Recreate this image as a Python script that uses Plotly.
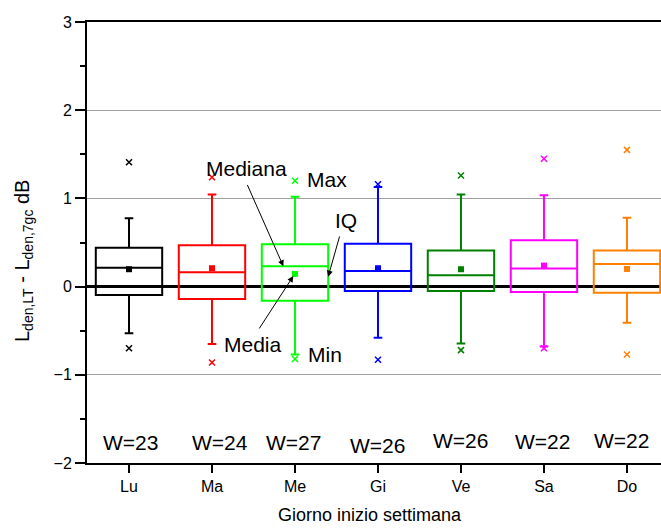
import plotly.graph_objects as go

days = ["Lu", "Ma", "Me", "Gi", "Ve", "Sa", "Do"]
positions = [1, 2, 3, 4, 5, 6, 7]
colors = ["#000000", "#FF0000", "#00FF00", "#0000FF", "#008000", "#FF00FF", "#FF8000"]
upper_whisker = [0.775, 1.045, 1.02, 1.13, 1.045, 1.035, 0.78]
q3 = [0.44, 0.47, 0.48, 0.487, 0.41, 0.525, 0.41]
median = [0.215, 0.163, 0.23, 0.178, 0.13, 0.204, 0.257]
mean = [0.197, 0.208, 0.144, 0.208, 0.197, 0.238, 0.20]
q1 = [-0.094, -0.14, -0.16, -0.05, -0.05, -0.06, -0.07]
lower_whisker = [-0.53, -0.65, -0.77, -0.58, -0.645, -0.68, -0.41]
max_val = [1.41, 1.24, 1.20, 1.16, 1.26, 1.45, 1.55]
min_val = [-0.70, -0.86, -0.82, -0.83, -0.72, -0.70, -0.77]
w_labels = ["W=23", "W=24", "W=27", "W=26", "W=26", "W=22", "W=22"]
w_offsets = [0.02, 0.1, -0.02, 0.0, 0.0, -0.02, -0.06]
w_y = [-1.77, -1.77, -1.77, -1.80, -1.75, -1.76, -1.74]

fig = go.Figure()
for i in range(7):
    c = colors[i]
    fig.add_trace(go.Box(
        x=[positions[i]], q1=[q1[i]], median=[median[i]], q3=[q3[i]],
        lowerfence=[lower_whisker[i]], upperfence=[upper_whisker[i]],
        width=0.8, whiskerwidth=0.13, boxpoints=False,
        line=dict(color=c, width=2), fillcolor="rgba(0,0,0,0)",
        showlegend=False, hoverinfo="skip"))
    fig.add_trace(go.Scatter(
        x=[positions[i]], y=[mean[i]], mode="markers",
        marker=dict(symbol="square", size=6, color=c, line=dict(width=0)),
        showlegend=False))
    fig.add_trace(go.Scatter(
        x=[positions[i], positions[i]], y=[max_val[i], min_val[i]], mode="markers",
        marker=dict(symbol="x-thin", size=6, color=c, line=dict(width=1.5, color=c)),
        showlegend=False))
    fig.add_annotation(x=positions[i] + w_offsets[i], y=w_y[i], text=w_labels[i],
                       showarrow=False, font=dict(size=21, color="black"),
                       xanchor="center", yanchor="middle")

# explanatory labels on the "Me" box
fig.add_annotation(x=2.41, y=1.343, text="Mediana", showarrow=False,
                   font=dict(size=21, color="black"))
fig.add_annotation(x=3.39, y=1.216, text="Max", showarrow=False,
                   font=dict(size=21, color="black"))
fig.add_annotation(x=3.618, y=0.755, text="IQ", showarrow=False,
                   font=dict(size=21, color="black"))
fig.add_annotation(x=2.498, y=-0.66, text="Media", showarrow=False,
                   font=dict(size=21, color="black"))
fig.add_annotation(x=3.36, y=-0.773, text="Min", showarrow=False,
                   font=dict(size=21, color="black"))
arrow_kw = dict(text="", showarrow=True, axref="x", ayref="y", arrowhead=2,
                arrowsize=1.2, arrowwidth=1, arrowcolor="black")
fig.add_annotation(x=2.86, y=median[2], ax=2.418, ay=1.17, **arrow_kw)
fig.add_annotation(x=3.40, y=0.113, ax=3.542, ay=0.585, **arrow_kw)
fig.add_annotation(x=2.98, y=0.12, ax=2.558, ay=-0.492, **arrow_kw)

# axis titles
fig.add_annotation(xref="paper", yref="paper", x=(23 - 87) / 574, y=(463 - 261) / 441,
                   text="L<sub>den,LT</sub> - L<sub>den,7gc</sub> dB", textangle=-90,
                   showarrow=False, font=dict(size=20, color="black"),
                   xanchor="center", yanchor="middle")
fig.add_annotation(xref="paper", yref="paper", x=(370 - 87) / 574, y=-(515 - 463) / 441,
                   text="Giorno inizio settimana", showarrow=False,
                   font=dict(size=18, color="black"), xanchor="center", yanchor="middle")

fig.update_layout(
    width=661, height=529,
    margin=dict(l=87, r=0, t=22, b=66),
    paper_bgcolor="white", plot_bgcolor="white",
    font=dict(family="Liberation Sans, Arial, sans-serif", color="black"),
    boxmode="overlay",
)
fig.update_xaxes(
    range=[0.494, 7.41], tickvals=positions, ticktext=days,
    ticks="outside", ticklen=8, tickwidth=1.5, tickcolor="black",
    showline=True, linecolor="black", linewidth=2, mirror=True,
    showgrid=False, zeroline=False, tickfont=dict(size=16, color="black"))
fig.update_yaxes(
    range=[-2, 3], dtick=1, tick0=0,
    ticks="outside", ticklen=10, tickwidth=1.5, tickcolor="black",
    showline=True, linecolor="black", linewidth=2,
    showgrid=True, gridcolor="#a0a0a0", gridwidth=1,
    zeroline=True, zerolinecolor="black", zerolinewidth=2.5,
    minor=dict(ticks="outside", ticklen=5, dtick=0.5, tickcolor="black", showgrid=False),
    tickfont=dict(size=16, color="black"))

fig.write_html("out.html")
